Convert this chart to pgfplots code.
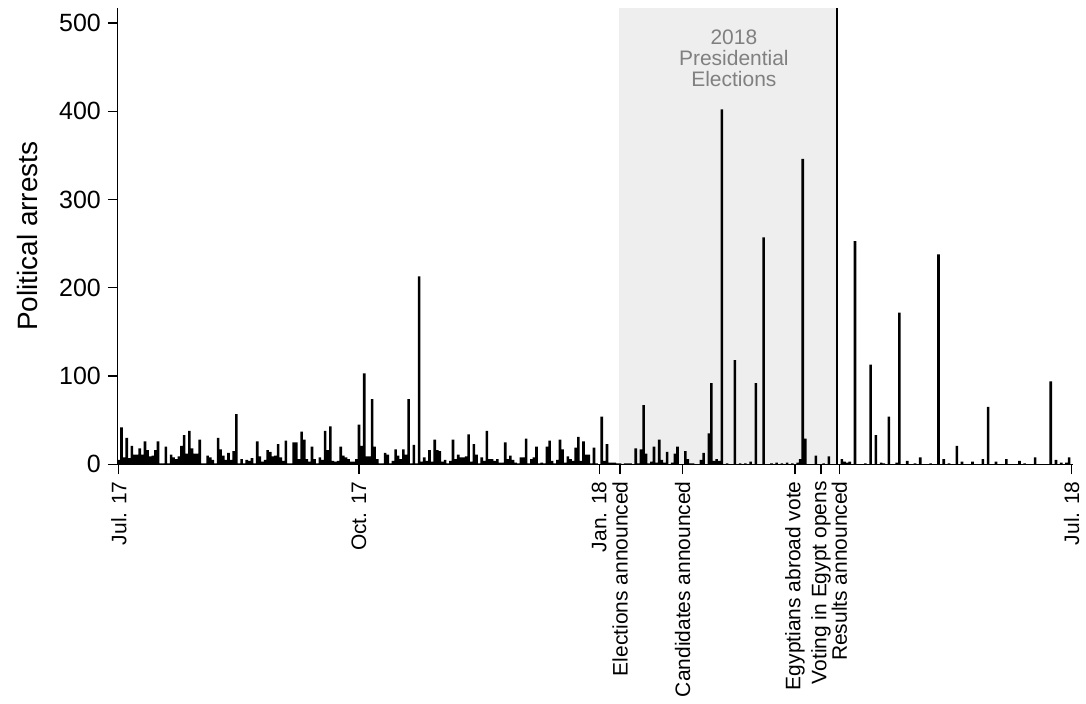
\documentclass[border=0pt]{standalone}
\usepackage{fontspec}
\setmainfont{Liberation Sans}
\usepackage{pgfplots}
\pgfplotsset{compat=1.18}
\definecolor{shadegray}{RGB}{238,238,238}
\definecolor{notegray}{RGB}{128,128,128}
\begin{document}
\begin{tikzpicture}
\begin{axis}[
  scale only axis,
  width=478.5pt, height=228.5pt,
  xmin=-0.4, xmax=365.7, ymin=0, ymax=517,
  enlargelimits=false,
  axis x line*=bottom, axis y line*=left,
  axis on top,
  axis line style={black, line width=0.6pt},
  tick style={black, line width=0.6pt},
  tick align=outside, major tick length=5pt,
  xtick={0,92,184,192,216,259,269,276,365},
  xticklabels={Jul. 17,Oct. 17,Jan. 18,Elections announced,Candidates announced,Egyptians abroad vote,Voting in Egypt opens,Results announced,Jul. 18},
  x tick label style={rotate=90, anchor=east, font=\fontsize{10.5}{12}\selectfont},
  ytick={0,100,200,300,400,500},
  y tick label style={font=\fontsize{12.5}{14}\selectfont},
  /pgf/number format/assume math mode=true,
  ylabel={Political arrests},
  ylabel style={font=\fontsize{14}{16}\selectfont, at={(axis description cs:-0.094,0.5)}, anchor=center},
]
\fill[shadegray] (axis cs:191.5,0) rectangle (axis cs:275.2,517);
\node[notegray, align=center, inner sep=0pt, font=\fontsize{10.5}{10.6}\selectfont] at (axis cs:235.6,460) {2018\\Presidential\\Elections};
\addplot[ybar, bar width=1.3pt, fill=black, draw=none] coordinates {
(0,5)(1,42)(2,8)(3,30)(4,7)(5,21)(6,11)(7,11)(8,18)(9,11)(10,26)(11,16)(12,9)(13,10)(14,16)(15,26)(16,1)(17,1)(18,20)(19,1)(20,11)(21,8)(22,6)(23,9)(24,21)(25,33)(26,12)(27,38)(28,18)(29,12)(30,12)(31,28)(32,1)(33,1)(34,10)(35,8)(36,5)(37,1)(38,30)(39,17)(40,10)(41,5)(42,13)(43,5)(44,15)(45,57)(46,1)(47,6)(48,1)(49,5)(50,4)(51,7)(52,1)(53,26)(54,9)(55,3)(56,5)(57,16)(58,14)(59,9)(60,10)(61,23)(62,8)(63,4)(64,27)(65,1)(66,1)(67,25)(68,25)
(69,6)(70,37)(71,28)(72,6)(73,3)(74,20)(75,6)(76,1)(77,8)(78,5)(79,38)(80,16)(81,43)(82,4)(83,3)(84,4)(85,20)(86,10)(87,8)(88,6)(89,3)(90,3)(91,6)(92,45)(93,21)(94,103)(95,9)(96,9)(97,74)(98,20)(99,6)(100,1)(101,1)(102,13)(103,11)(104,1)(105,4)(106,17)(107,10)(108,6)(109,17)(110,11)(111,74)(112,1)(113,22)(114,1)(115,213)(116,3)(117,8)(118,4)(119,16)(120,3)(121,28)(122,16)(123,15)(124,3)(125,5)(126,1)(127,4)(128,28)(129,6)(130,11)(131,8)(132,8)(133,9)(134,34)(135,3)(136,23)(137,11)(138,1)(139,8)
(140,4)(141,38)(142,6)(143,6)(144,4)(145,6)(146,2)(147,2)(148,25)(149,6)(150,10)(151,5)(152,2)(153,1)(154,8)(155,8)(156,29)(157,1)(158,6)(159,8)(160,20)(161,1)(162,2)(163,1)(164,20)(165,27)(166,4)(167,1)(168,5)(169,28)(170,17)(171,2)(172,9)(173,6)(174,4)(175,19)(176,31)(177,4)(178,26)(179,11)(180,11)(181,1)(182,19)(183,1)(185,54)(186,4)(187,23)(188,2)(189,2)(190,2)(191,1)
(192,1)(194,1)(195,1)(196,1)(198,18)(199,1)(200,17)(201,67)(202,12)(203,1)(204,3)(205,20)(206,2)(207,28)(208,5)(209,2)(210,14)
(212,2)(213,12)(214,20)(217,15)(218,6)(219,1)(220,1)(223,5)(224,13)(226,35)(227,92)(228,4)(229,6)(230,4)(231,402)(233,1)(236,118)(238,1)(240,1)(242,3)(244,92)(247,257)(250,1)(252,2)(254,1)(256,2)(258,1)(260,2)(261,6)(262,346)(263,29)(267,10)(270,1)(272,9)(277,6)(278,3)(279,2)
(280,3)(282,253)(286,1)(288,113)(290,33)(292,2)(293,1)(295,54)(298,2)(299,172)(302,4)(305,1)(307,8)(311,1)(314,238)(316,6)(318,1)(321,21)(323,3)(327,3)(331,6)(333,65)(336,3)(340,6)(345,4)(347,1)(351,8)(357,94)(359,5)(361,2)(363,2)(364,8)
};
\draw[black, line width=1.2pt] (axis cs:275.2,0) -- (axis cs:275.2,517);
\end{axis}
\path[use as bounding box] (current axis.south west) ++(-59pt,-118.5pt) rectangle ++(543pt,351pt);
\end{tikzpicture}
\end{document}
